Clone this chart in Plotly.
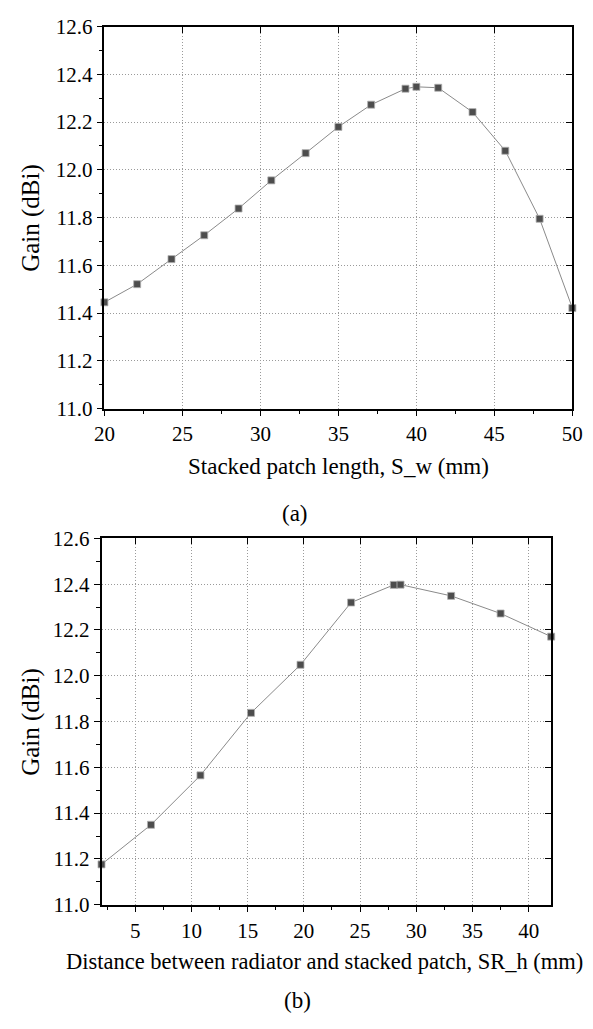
import plotly.graph_objects as go

# (a) Stacked patch length
sw_mm = [20, 22.1, 24.3, 26.4, 28.6, 30.7, 32.9, 35.0, 37.1, 39.3, 40.0, 41.4, 43.6, 45.7, 47.9, 50]
gain_a = [11.445, 11.521, 11.626, 11.726, 11.838, 11.956, 12.07, 12.18, 12.273, 12.34, 12.348, 12.344, 12.242, 12.08, 11.795, 11.421]

# (b) Distance between radiator and stacked patch
srh_mm = [2.0, 6.4, 10.8, 15.3, 19.7, 24.2, 28.0, 28.6, 33.1, 37.5, 42.0]
gain_b = [11.176, 11.349, 11.565, 11.838, 12.048, 12.32, 12.397, 12.398, 12.349, 12.272, 12.171]

x_title_a = "Stacked patch length, S_w (mm)"
x_title_b = "Distance between radiator and stacked patch, SR_h (mm)"
y_title = "Gain (dBi)"

W, H = 593, 1029
FONT = "Liberation Serif"

def fx(px):
    return px / W

def fy(py):
    return 1 - py / H

# plot boxes in pixels
A = dict(l=97, r=583, t=15, b=406)
B = dict(l=94, r=561, t=539, b=914)

fig = go.Figure()

line_style = dict(color="#8a8a8a", width=1)
marker_style = dict(symbol="square", size=7, color="#4d4d4d", line=dict(color="#b0b0b0", width=0.8))

fig.add_trace(go.Scatter(x=sw_mm, y=gain_a, mode="lines+markers", line=line_style,
                         marker=marker_style, xaxis="x", yaxis="y", showlegend=False, cliponaxis=False))
fig.add_trace(go.Scatter(x=srh_mm, y=gain_b, mode="lines+markers", line=line_style,
                         marker=marker_style, xaxis="x2", yaxis="y2", showlegend=False, cliponaxis=False))
# empty traces so that the mirror (inward tick) axes are drawn
for xa, ya in [("x3", "y"), ("x", "y3"), ("x4", "y2"), ("x2", "y4")]:
    fig.add_trace(go.Scatter(x=[], y=[], xaxis=xa, yaxis=ya, showlegend=False, hoverinfo="skip"))

tickfont = dict(family=FONT, size=21, color="black")
grid = dict(showgrid=True, gridcolor="#9a9a9a", griddash="1px,2px", gridwidth=1)
axline = dict(showline=True, linecolor="black", linewidth=1.5, zeroline=False)

def main_x(rng, dom, anchor, tickvals):
    return dict(range=rng, domain=dom, anchor=anchor, tickvals=tickvals,
                ticks="outside", ticklen=6, tickwidth=1.2, tickcolor="black",
                minor=dict(ticks="outside", dtick=2.5, tick0=0, ticklen=4, tickwidth=1.2, tickcolor="black", showgrid=False),
                tickfont=tickfont, ticklabeloverflow="allow", mirror=True, **axline, **grid)

def main_y(rng, dom, anchor):
    return dict(range=rng, domain=dom, anchor=anchor, dtick=0.2, tick0=11, tickformat=".1f",
                ticks="outside", ticklen=6, tickwidth=1.2, tickcolor="black",
                minor=dict(ticks="outside", dtick=0.1, tick0=11, ticklen=4, tickwidth=1.2, tickcolor="black", showgrid=False),
                tickfont=tickfont, ticklabeloverflow="allow", mirror=True, **axline, **grid)

def mirror_x(rng, over, anchor, tickvals):
    return dict(range=rng, overlaying=over, anchor=anchor, side="top", tickvals=tickvals,
                ticks="inside", ticklen=6, tickwidth=1.2, tickcolor="black",
                showticklabels=False, showgrid=False, showline=False, zeroline=False)

def mirror_y(rng, over, anchor):
    return dict(range=rng, overlaying=over, anchor=anchor, side="right", dtick=0.2, tick0=11,
                ticks="inside", ticklen=6, tickwidth=1.2, tickcolor="black",
                showticklabels=False, showgrid=False, showline=False, zeroline=False)

xr_a = [sw_mm[0], sw_mm[-1]]
xr_b = [srh_mm[0], srh_mm[-1]]
yr = [11.0, 12.6]
tv_a = [20, 25, 30, 35, 40, 45, 50]
tv_b = [5, 10, 15, 20, 25, 30, 35, 40]

fig.update_layout(
    width=W, height=H, margin=dict(l=0, r=0, t=0, b=0),
    font=dict(family=FONT, color="black"),
    paper_bgcolor="white", plot_bgcolor="white", showlegend=False,
    xaxis=main_x(xr_a, [fx(A["l"]), fx(A["r"])], "y", tv_a),
    yaxis=main_y(yr, [fy(A["b"]), fy(A["t"])], "x"),
    xaxis2=main_x(xr_b, [fx(B["l"]), fx(B["r"])], "y2", tv_b),
    yaxis2=main_y(yr, [fy(B["b"]), fy(B["t"])], "x2"),
    xaxis3=mirror_x(xr_a, "x", "y", tv_a),
    yaxis3=mirror_y(yr, "y", "x"),
    xaxis4=mirror_x(xr_b, "x2", "y2", tv_b),
    yaxis4=mirror_y(yr, "y2", "x2"),
)

ann_font = dict(family=FONT, size=23, color="black")
annotations = [
    dict(text=x_title_a, x=fx((A["l"] + A["r"]) / 2), y=fy(465), xref="paper", yref="paper",
         showarrow=False, font=ann_font, xanchor="center", yanchor="middle"),
    dict(text="(a)", x=fx(295), y=fy(513), xref="paper", yref="paper",
         showarrow=False, font=ann_font, xanchor="center", yanchor="middle"),
    dict(text=x_title_b, x=fx(326), y=fy(972), xref="paper", yref="paper",
         showarrow=False, font=dict(family=FONT, size=22.5, color="black"), xanchor="center", yanchor="middle"),
    dict(text="(b)", x=fx(298), y=fy(1012), xref="paper", yref="paper",
         showarrow=False, font=ann_font, xanchor="center", yanchor="middle"),
    dict(text=y_title, x=fx(20), y=fy((A["t"] + A["b"]) / 2), xref="paper", yref="paper",
         showarrow=False, font=dict(family=FONT, size=25, color="black"), textangle=-90,
         xanchor="center", yanchor="middle"),
    dict(text=y_title, x=fx(20), y=fy((B["t"] + B["b"]) / 2), xref="paper", yref="paper",
         showarrow=False, font=dict(family=FONT, size=25, color="black"), textangle=-90,
         xanchor="center", yanchor="middle"),
]
fig.update_layout(annotations=annotations)

fig.write_html("out.html", config={"displayModeBar": False},
               post_script="document.body.style.margin='0';document.body.style.overflow='hidden';")
